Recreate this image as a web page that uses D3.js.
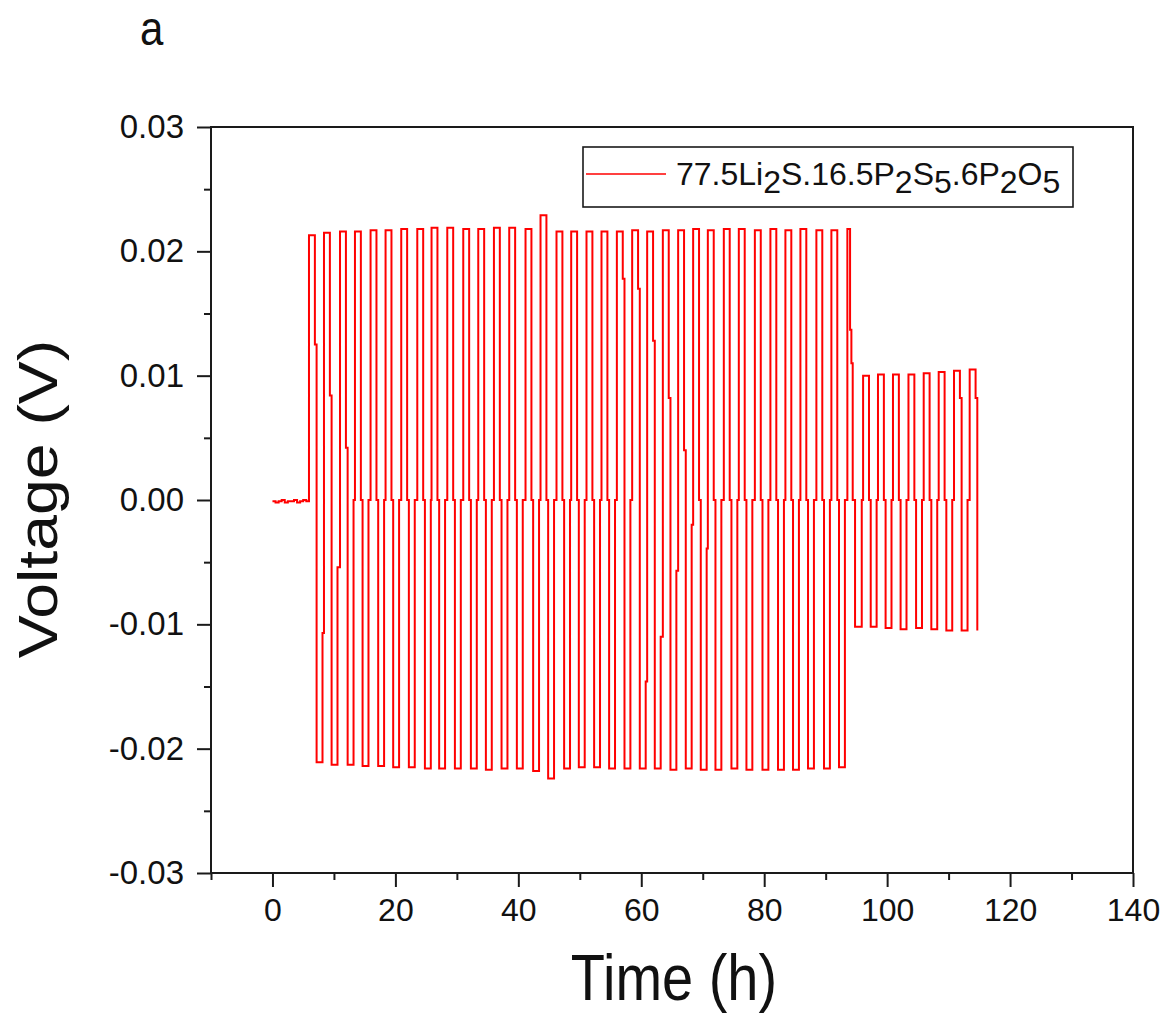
<!DOCTYPE html>
<html><head><meta charset="utf-8">
<script src="https://cdn.jsdelivr.net/npm/d3@7"></script>
<style>body{margin:0;background:#fff;} svg{display:block;font-family:"Liberation Sans",Arial,sans-serif;}</style>
</head><body><svg id="c" width="1168" height="1016"></svg>
<script>
// ---- data ----
const xTicks = [0, 20, 40, 60, 80, 100, 120, 140];
const xMinorTicks = [-10, 10, 30, 50, 70, 90, 110, 130];
const yTicks = [-0.03, -0.02, -0.01, 0, 0.01, 0.02, 0.03];
const yTickLabels = ["-0.03", "-0.02", "-0.01", "0.00", "0.01", "0.02", "0.03"];
const yMinorTicks = [-0.025, -0.015, -0.005, 0.005, 0.015, 0.025];
const seriesName = ["77.5Li", "2", "S.16.5P", "2", "S", "5", ".6P", "2", "O", "5"];

// initial open-circuit rest (h, V)
const restT = [0, 0.5, 1, 1.5, 2, 2.5, 3, 3.5, 4, 4.5, 5, 5.5];
const restV = [-0.0001, -0.0002, -0.0001, 0.0000, -0.0002, -0.0001, -0.0001, 0.0000, -0.0002, -0.0001, 0.0000, -0.0001];

// stage 1 cycles: start of positive step (h), plateau voltages (V)
const rise1 = [5.94, 8.38, 10.99, 13.42, 15.96, 18.40, 20.95, 23.56, 25.88, 28.44, 31.04, 33.48,
  36.03, 38.52, 41.17, 43.61, 46.21, 48.60, 51.09, 53.53, 56.03, 58.52, 60.96, 63.51,
  66.00, 68.44, 70.83, 73.43, 75.87, 78.48, 81.01, 83.45, 85.89, 88.49, 90.93, 93.53];
const high1 = [0.0213, 0.0215, 0.0216, 0.0216, 0.0217, 0.0217, 0.0218, 0.0218, 0.0219, 0.0219, 0.0218, 0.0218,
  0.0219, 0.0219, 0.0218, 0.0229, 0.0216, 0.0216, 0.0216, 0.0216, 0.0216, 0.0217, 0.0216, 0.0217,
  0.0217, 0.0218, 0.0217, 0.0218, 0.0218, 0.0217, 0.0218, 0.0217, 0.0218, 0.0217, 0.0217, 0.0218];
const low1 = [-0.0211, -0.0213, -0.0213, -0.0214, -0.0214, -0.0215, -0.0215, -0.0216, -0.0216, -0.0216, -0.0216, -0.0217,
  -0.0216, -0.0216, -0.0218, -0.0224, -0.0216, -0.0215, -0.0215, -0.0216, -0.0216, -0.0216, -0.0216, -0.0217,
  -0.0216, -0.0217, -0.0217, -0.0216, -0.0217, -0.0217, -0.0217, -0.0217, -0.0216, -0.0216, -0.0215, -0.0102];

// stage 2 cycles (lower current)
const rise2 = [96.09, 98.51, 100.95, 103.47, 105.95, 108.39, 110.88, 113.43];
const high2 = [0.0100, 0.0101, 0.0101, 0.0101, 0.0102, 0.0103, 0.0104, 0.0105];
const low2 = [-0.0102, -0.0103, -0.0104, -0.0103, -0.0104, -0.0105, -0.0105, -0.0105];

// intermediate samples recorded during a transition (cycle index -> V)
const fallJog = {0: [0.0125], 1: [0.0084], 2: [0.0042], 20: [0.0178], 21: [0.0170], 22: [0.0128],
  23: [0.0082], 24: [0.0040], 35: [0.0137, 0.0110], 42: [0.0082], 43: [0.0082]};
const riseJog = {0: [-0.0107], 1: [-0.0054], 21: [-0.0146], 22: [-0.0110], 23: [-0.0057], 24: [-0.0020], 25: [-0.0039]};
// cycle 36 (index 35) timing
const specialTiming = {35: {fall: 93.97, jogEnd: 94.40, negStart: 94.78, negEnd: 95.87}};
const HOLD = 0.96, GAP = 0.28;

// ---- build step series ----
const rises = rise1.concat(rise2), highs = high1.concat(high2), lows = low1.concat(low2);
const pts = restT.map((t, i) => [t, restV[i]]);
rises.forEach((r, k) => {
  const sp = specialTiming[k] || {};
  const fall = sp.fall ?? r + HOLD;
  const negStart = sp.negStart ?? fall + GAP;
  const jogEnd = sp.jogEnd ?? negStart;
  const negEnd = sp.negEnd ?? negStart + HOLD;
  pts.push([r, highs[k]]);
  const fj = fallJog[k];
  if (fj) {
    const step = (jogEnd - fall) / fj.length;
    fj.forEach((v, j) => pts.push([fall + j * step, v]));
    if (jogEnd < negStart) pts.push([jogEnd, 0]);
  } else {
    pts.push([fall, 0]);
  }
  pts.push([negStart, lows[k]]);
  if (k === rises.length - 1) return;
  const rj = riseJog[k];
  pts.push([negEnd, rj ? rj[0] : 0]);
});

// ---- drawing ----
const svg = d3.select("#c");
const L = 211, R = 1133, T = 127, B = 873;
const x = d3.scaleLinear().domain([-10, 140]).range([L, R]);
const y = d3.scaleLinear().domain([-0.03, 0.03]).range([B, T]);
const axisColor = "#1a1a1a";

// minor ticks
svg.append("g").attr("transform", `translate(0,${B})`)
  .call(d3.axisBottom(x).tickValues(xMinorTicks).tickSize(7).tickSizeOuter(0).tickFormat(""))
  .call(g => g.select(".domain").remove());
svg.append("g").attr("transform", `translate(${L},0)`)
  .call(d3.axisLeft(y).tickValues(yMinorTicks).tickSize(7).tickSizeOuter(0).tickFormat(""))
  .call(g => g.select(".domain").remove());

// major axes
const xa = svg.append("g").attr("transform", `translate(0,${B})`)
  .call(d3.axisBottom(x).tickValues(xTicks).tickSize(14).tickSizeOuter(0).tickPadding(11));
xa.select(".domain").remove();
xa.selectAll("text").attr("font-size", 32).attr("fill", "#111").attr("font-family", "Liberation Sans, Arial, sans-serif");

const ya = svg.append("g").attr("transform", `translate(${L},0)`)
  .call(d3.axisLeft(y).tickValues(yTicks).tickSize(14).tickSizeOuter(0).tickPadding(13)
    .tickFormat((d, i) => yTickLabels[i]));
ya.select(".domain").remove();
ya.selectAll("text").attr("font-size", 33).attr("fill", "#111").attr("font-family", "Liberation Sans, Arial, sans-serif");

svg.selectAll(".tick line").attr("stroke", axisColor).attr("stroke-width", 2);

// frame
svg.append("rect").attr("x", L).attr("y", T).attr("width", R - L).attr("height", B - T)
  .attr("fill", "none").attr("stroke", axisColor).attr("stroke-width", 2);

// data line
const line = d3.line().x(d => x(d[0])).y(d => y(d[1])).curve(d3.curveStepAfter);
svg.append("path").datum(pts).attr("d", line)
  .attr("fill", "none").attr("stroke", "#ff0000").attr("stroke-width", 2);

// legend
const lg = svg.append("g");
lg.append("rect").attr("x", 583).attr("y", 147).attr("width", 490).attr("height", 60)
  .attr("fill", "#fff").attr("stroke", axisColor).attr("stroke-width", 1.6);
lg.append("line").attr("x1", 586).attr("x2", 666).attr("y1", 174).attr("y2", 174)
  .attr("stroke", "#ff0000").attr("stroke-width", 1.5);
const lt = lg.append("text").attr("x", 676).attr("y", 185).attr("font-size", 32).attr("fill", "#111");
seriesName.forEach((s, i) => {
  const sub = i % 2 === 1;
  lt.append("tspan").text(s).attr("dy", i === 0 ? 0 : (sub ? 8 : -8));
});

// axis titles
svg.append("text").attr("transform", "translate(674,1000) scale(1,1.15)")
  .attr("text-anchor", "middle").attr("font-size", 56).attr("fill", "#111").text("Time (h)");
svg.append("text").attr("transform", "translate(57,499) rotate(-90) scale(1.15,1)")
  .attr("text-anchor", "middle").attr("font-size", 56).attr("fill", "#111").text("Voltage (V)");

// panel label
svg.append("text").attr("transform", "translate(140,45) scale(1,1.15)")
  .attr("font-size", 42).attr("fill", "#111").text("a");
</script>
</body></html>
